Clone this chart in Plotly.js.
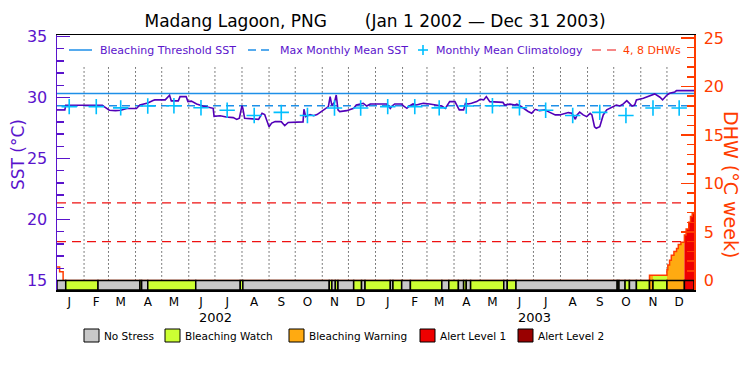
<!DOCTYPE html>
<html><head><meta charset="utf-8">
<script src="https://cdn.plot.ly/plotly-3.0.1.min.js"></script>
<style>html,body{margin:0;padding:0;background:#fff;}#chart{width:750px;height:375px;}</style>
</head><body><div id="chart"></div>
<script>
// ---------------- data ----------------
const periodStart = '2002-01-01';
const periodEnd = '2004-01-01';
const monthLetters = ['J','F','M','A','M','J','J','A','S','O','N','D'];
const years = [2002, 2003];
const climatology = [29.25,29.25,29.15,29.3,29.32,29.16,28.95,28.52,28.78,28.52,29.14,29.14];
const maxMonthlyMean = 29.33;
const bleachingThreshold = 30.33;
const dhwLevels = [4, 8];

// SST: days since 2002-01-01 and value (°C)
const sstDay = [0,9,10,52,54,57,60,67,73,80,91,95,100,104,110,112,124,127,129,131,139,141,148,150,154,160,167,179,180,187,194,202,206,209,210,212,213,215,231,235,238,241,243,246,250,257,261,265,269,282,283,285,290,294,298,303,307,311,313,315,318,320,322,324,332,336,340,343,347,351,355,359,378,382,384,387,395,397,401,404,408,412,416,420,427,435,441,445,450,456,458,461,466,468,471,475,481,485,489,492,496,502,511,513,519,525,527,531,536,540,544,548,553,559,563,567,571,576,582,586,590,594,596,599,603,607,611,613,616,618,622,626,630,634,637,641,645,649,653,657,659,662,664,672,680,685,691,694,699,702,708,710,730];
const sstValue = [28.98,28.98,29.36,29.36,29.25,29.1,28.95,28.92,28.95,29.1,29.1,29.38,29.45,29.55,29.75,29.8,29.8,30.05,30.18,29.72,29.72,30.07,30.07,29.66,29.7,29.47,29.3,29.11,28.45,28.5,28.4,28.35,28.2,28.3,28.65,29.33,29.1,28.3,28.21,28.7,28.6,27.9,27.6,27.9,28.02,28.02,27.69,27.95,27.97,28.0,29.03,28.43,28.6,28.5,28.6,28.84,29.1,29.25,30.07,29.35,29.6,30.2,28.98,28.84,28.92,29.03,29.11,29.38,29.45,29.52,29.3,29.47,29.47,29.11,29.3,29.47,29.47,29.3,29.11,29.3,29.47,29.38,29.47,29.52,29.47,29.38,29.3,29.11,29.66,29.66,29.38,28.98,28.98,29.52,29.47,29.52,29.66,29.85,29.8,30.07,29.66,29.66,29.6,29.38,29.45,29.38,29.45,29.3,29.03,28.85,28.7,29.03,28.92,28.98,28.84,28.7,28.57,28.57,28.7,28.76,28.7,28.21,28.57,28.8,28.57,28.43,28.7,28.57,27.6,27.47,27.6,28.57,28.98,29.11,29.25,29.38,29.3,29.47,29.74,29.47,29.3,29.38,29.8,29.93,30.12,30.29,30.02,29.8,30.2,30.34,30.45,30.56,30.56];

// Degree Heating Weeks (step values)
const dhwDate = ['2002-01-01','2002-01-04','2002-01-08','2003-11-11','2003-12-01','2003-12-02','2003-12-04','2003-12-06','2003-12-09','2003-12-12','2003-12-14','2003-12-17','2003-12-21','2003-12-23','2003-12-26','2003-12-28','2003-12-30','2004-01-01'];
const dhwValue = [1.4,0.9,0,0.55,1.1,1.6,2.1,2.6,3.0,3.3,3.7,3.95,4.7,5.3,6.0,6.6,6.9,6.9];

// Stress level strip: segment start dates and status index
const stripStart = ['2002-01-01','2002-01-11','2002-02-17','2002-04-06','2002-04-08','2002-04-15','2002-06-09','2002-07-30','2002-08-02','2002-11-09','2002-11-12','2002-11-16','2002-11-19','2002-12-07','2002-12-16','2002-12-20','2003-01-18','2003-01-21','2003-01-31','2003-02-10','2003-03-18','2003-03-26','2003-04-06','2003-04-12','2003-04-15','2003-04-20','2003-05-28','2003-06-01','2003-06-11','2003-10-05','2003-10-07','2003-10-14','2003-10-19','2003-10-27','2003-11-11','2003-11-15','2003-12-01','2003-12-21'];
const stripStatus = [0,1,0,1,0,1,0,1,0,1,0,1,0,1,0,1,0,1,0,1,0,1,0,1,0,1,0,1,0,1,0,1,0,1,2,1,2,3];
const statusNames = ['No Stress','Bleaching Watch','Bleaching Warning','Alert Level 1','Alert Level 2'];

// ---------------- styling ----------------
const FONT = 'DejaVu Sans, Liberation Sans, Arial, sans-serif';
const PURPLE = '#5a14cc';
const SSTCOL = '#5200b8';
const BLUE = '#1e8fe8';
const CYAN = '#00bfff';
const ORANGE = '#ff3c00';
const REDDASH = '#ee1111';
const statusColors = ['#c8c8c8','#ccff33','#ffaa11','#ee0000','#990000'];
const Y1 = [14.22, 35.12];
const Y2 = [-0.98, 25.31];
const L = 57, R = 694, T = 35, B = 290;
const px2x = p => (p - L) / (R - L);
const px2y = p => (B - p) / (B - T);

function dayToDate(d) {
  const t = Date.UTC(2002, 0, 1) + d * 86400000;
  return new Date(t).toISOString().slice(0, 10);
}
function pad(n) { return (n < 10 ? '0' : '') + n; }

const sstDates = sstDay.map(dayToDate);
const climX = [], climY = [];
years.forEach(y => climatology.forEach((v, m) => { climX.push(y + '-' + pad(m + 1) + '-15'); climY.push(v); }));

function dhwAt(t) {
  let v = 0;
  for (let i = 0; i < dhwDate.length; i++) if (dhwDate[i] <= t) v = dhwValue[i];
  return v;
}

const traces = [];
// DHW fill by status
stripStart.forEach((s, i) => {
  const st = stripStatus[i];
  if (st === 0) return;
  const e = i + 1 < stripStart.length ? stripStart[i + 1] : periodEnd;
  const xs = [s], ys = [dhwAt(s)];
  dhwDate.forEach((d, j) => { if (d > s && d < e) { xs.push(d); ys.push(dhwValue[j]); } });
  xs.push(e); ys.push(ys[ys.length - 1]);
  if (Math.max(...ys) <= 0) return;
  traces.push({x: xs, y: ys, yaxis: 'y2', mode: 'lines', line: {shape: 'hv', width: 0, color: statusColors[st]},
    fill: 'tozeroy', fillcolor: statusColors[st], hoverinfo: 'skip', showlegend: false});
});
// DHW outline
traces.push({x: dhwDate, y: dhwValue, yaxis: 'y2', mode: 'lines', line: {shape: 'hv', width: 1.5, color: ORANGE}, name: 'DHW', showlegend: false});
// DHW reference levels
dhwLevels.forEach(v => traces.push({x: [periodStart, periodEnd], y: [v, v], yaxis: 'y2', mode: 'lines',
  line: {color: REDDASH, width: 1.2, dash: '9px,6px'}, name: '4, 8 DHWs', showlegend: false}));
// threshold and MMM
traces.push({x: [periodStart, periodEnd], y: [bleachingThreshold, bleachingThreshold], mode: 'lines',
  line: {color: BLUE, width: 1.5}, name: 'Bleaching Threshold SST', showlegend: false});
traces.push({x: [periodStart, periodEnd], y: [maxMonthlyMean, maxMonthlyMean], mode: 'lines',
  line: {color: BLUE, width: 1.5, dash: '8px,5px'}, name: 'Max Monthly Mean SST', showlegend: false});
// SST
traces.push({x: sstDates, y: sstValue, mode: 'lines', line: {color: SSTCOL, width: 1.6}, name: 'SST', showlegend: false});
// climatology
traces.push({x: climX, y: climY, mode: 'markers', marker: {symbol: 'cross-thin', size: 11, line: {color: CYAN, width: 1.6}},
  name: 'Monthly Mean Climatology', showlegend: false});

const shapes = [];
// dotted month separators
for (let k = 1; k < 24; k++) {
  const y = 2002 + Math.floor(k / 12), m = k % 12;
  const d = y + '-' + pad(m + 1) + '-01';
  shapes.push({type: 'line', xref: 'x', yref: 'y', x0: d, x1: d, y0: 15, y1: 32.66, layer: 'below',
    line: {color: '#000', width: 1, dash: '1px,3px'}});
}
// status strip
stripStart.forEach((s, i) => {
  const e = i + 1 < stripStart.length ? stripStart[i + 1] : periodEnd;
  shapes.push({type: 'rect', xref: 'x', yref: 'y', x0: s, x1: e, y0: Y1[0], y1: 15, layer: 'above',
    fillcolor: statusColors[stripStatus[i]], line: {color: '#000', width: 1.5}});
});
// top legend glyphs
const ly = px2y(50);
shapes.push({type: 'line', xref: 'paper', yref: 'paper', x0: px2x(69), x1: px2x(92), y0: ly, y1: ly, line: {color: BLUE, width: 1.5}});
shapes.push({type: 'line', xref: 'paper', yref: 'paper', x0: px2x(248), x1: px2x(273), y0: ly, y1: ly, line: {color: BLUE, width: 1.5, dash: '8px,5px'}});
shapes.push({type: 'line', xref: 'paper', yref: 'paper', x0: px2x(418), x1: px2x(428), y0: ly, y1: ly, line: {color: CYAN, width: 1.6}});
shapes.push({type: 'line', xref: 'paper', yref: 'paper', x0: px2x(423), x1: px2x(423), y0: px2y(45), y1: px2y(55), line: {color: CYAN, width: 1.6}});
shapes.push({type: 'line', xref: 'paper', yref: 'paper', x0: px2x(592), x1: px2x(618), y0: ly, y1: ly, line: {color: REDDASH, width: 1.2, dash: '9px,6px'}});
// bottom legend boxes
const boxX = [84, 165, 289, 420, 518];
boxX.forEach((bx, i) => shapes.push({type: 'rect', xref: 'paper', yref: 'paper', x0: px2x(bx), x1: px2x(bx + 15),
  y0: px2y(342), y1: px2y(329), fillcolor: statusColors[i], line: {color: '#000', width: 1}}));

const annotations = [];
const addText = (text, xpx, ypx, color, size, anchor) => annotations.push({text, xref: 'paper', yref: 'paper',
  x: px2x(xpx), y: px2y(ypx), xanchor: anchor || 'left', yanchor: 'middle', showarrow: false,
  font: {family: FONT, size, color}});
addText('Bleaching Threshold SST', 98, 50, PURPLE, 11);
addText('Max Monthly Mean SST', 278, 50, PURPLE, 11);
addText('Monthly Mean Climatology', 434, 50, PURPLE, 11);
addText('4, 8 DHWs', 621, 50, ORANGE, 11);
const textX = [102, 183, 307, 438, 536];
statusNames.forEach((n, i) => addText(n, textX[i], 336, '#000', 10.5));
years.forEach(y => annotations.push({text: String(y), xref: 'x', yref: 'paper', x: y + '-07-02', y: px2y(317),
  xanchor: 'center', yanchor: 'middle', showarrow: false, font: {family: FONT, size: 13, color: '#000'}}));
annotations.push({text: 'SST (°C)', xref: 'paper', yref: 'paper', x: px2x(18), y: px2y(155), textangle: -90,
  xanchor: 'center', yanchor: 'middle', showarrow: false, font: {family: FONT, size: 17, color: PURPLE}});
annotations.push({text: 'DHW (°C week)', xref: 'paper', yref: 'paper', x: px2x(731), y: px2y(184), textangle: 90,
  xanchor: 'center', yanchor: 'middle', showarrow: false, font: {family: FONT, size: 19, color: ORANGE}});

const tickvals = [], ticktext = [];
years.forEach(y => monthLetters.forEach((l, m) => { tickvals.push(y + '-' + pad(m + 1) + '-15'); ticktext.push(l); }));

const layout = {
  width: 750, height: 375,
  margin: {l: L, r: 750 - R, t: T, b: 375 - B, pad: 0},
  paper_bgcolor: '#fff', plot_bgcolor: '#fff',
  showlegend: false,
  title: {text: 'Madang Lagoon, PNG\u00a0\u00a0\u00a0\u00a0\u00a0\u00a0\u00a0(Jan 1 2002 \u2014 Dec 31 2003)',
    x: 0.5, xanchor: 'center', y: 1 - 21 / 375, yanchor: 'middle', font: {family: FONT, size: 17, color: '#000'}},
  font: {family: FONT},
  xaxis: {type: 'date', range: [periodStart, periodEnd], tickmode: 'array', tickvals, ticktext, ticks: '',
    showgrid: false, zeroline: false, showline: true, mirror: true, linecolor: '#000', linewidth: 1.5,
    tickfont: {family: FONT, size: 12, color: '#000'}, fixedrange: true},
  yaxis: {range: Y1, tickmode: 'linear', tick0: 15, dtick: 5, ticks: 'inside', ticklen: 13, tickwidth: 1.5, tickcolor: PURPLE,
    minor: {tickmode: 'linear', tick0: 15, dtick: 1, ticks: 'inside', ticklen: 7, tickwidth: 1.5, tickcolor: PURPLE},
    showline: true, linecolor: PURPLE, linewidth: 1.5, showgrid: false, zeroline: false, ticklabelstandoff: 5,
    tickfont: {family: FONT, size: 16, color: PURPLE}, fixedrange: true},
  yaxis2: {range: Y2, overlaying: 'y', side: 'right', tickmode: 'linear', tick0: 0, dtick: 5, ticks: 'inside', ticklen: 13,
    tickwidth: 1.5, tickcolor: ORANGE,
    minor: {tickmode: 'linear', tick0: 0, dtick: 1, ticks: 'inside', ticklen: 7, tickwidth: 1.5, tickcolor: ORANGE},
    showline: true, linecolor: ORANGE, linewidth: 1.5, showgrid: false, zeroline: false, ticklabelstandoff: 5,
    tickfont: {family: FONT, size: 16, color: ORANGE}, fixedrange: true},
  shapes, annotations
};
Plotly.newPlot('chart', traces, layout, {staticPlot: true, displayModeBar: false});
</script></body></html>
